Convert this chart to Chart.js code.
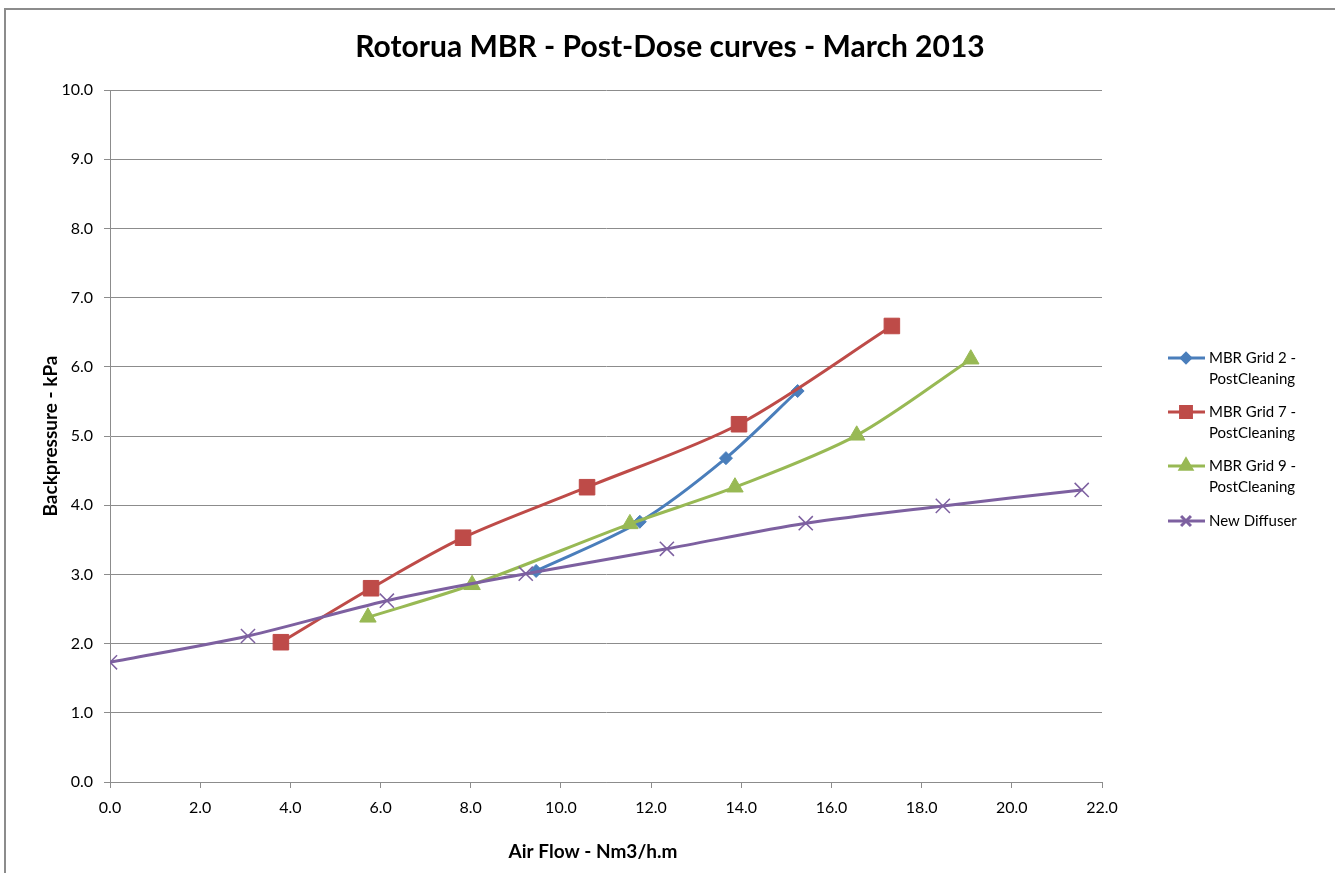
<!DOCTYPE html>
<html>
<head>
<meta charset="utf-8">
<title>Rotorua MBR - Post-Dose curves - March 2013</title>
<script src="https://cdn.jsdelivr.net/npm/chart.js@4/dist/chart.umd.min.js"></script>
<style>
  html, body { margin: 0; padding: 0; background: #ffffff; }
  canvas { display: block; }
</style>
</head>
<body>
<canvas id="chart" width="1335" height="873"></canvas>
<script>
// Air flow (Nm3/h.m) and backpressure (kPa) per series
const grid2X = [9.45, 11.75, 13.66, 15.25];
const grid2Y = [3.05, 3.76, 4.68, 5.65];

const grid7X = [3.79, 5.79, 7.83, 10.58, 13.95, 17.34];
const grid7Y = [2.02, 2.80, 3.53, 4.26, 5.17, 6.59];

const grid9X = [5.72, 8.03, 11.53, 13.86, 16.56, 19.09];
const grid9Y = [2.38, 2.85, 3.73, 4.26, 5.01, 6.11];

const diffuserX = [0.0, 3.06, 6.14, 9.22, 12.35, 15.43, 18.47, 21.55];
const diffuserY = [1.73, 2.11, 2.62, 3.01, 3.37, 3.74, 3.99, 4.22];

const seriesNames = [
  ['MBR Grid 2 -', 'PostCleaning'],
  ['MBR Grid 7 -', 'PostCleaning'],
  ['MBR Grid 9 -', 'PostCleaning'],
  ['New Diffuser']
];

const titleText = 'Rotorua MBR - Post-Dose curves - March 2013';
const xTitle = 'Air Flow - Nm3/h.m';
const yTitle = 'Backpressure - kPa';

const FONT = 'Lato, "Open Sans", "DejaVu Sans", sans-serif';
const GRID = '#8c8c8c';

function toPoints(xs, ys) {
  return xs.map((x, i) => ({ x: x, y: ys[i] }));
}

const styles = [
  { color: '#4a7ebb', pointStyle: 'rectRot', radius: 6.5, borderWidth: 1 },
  { color: '#be4b48', pointStyle: 'rect', radius: 11, borderWidth: 1 },
  { color: '#98b954', pointStyle: 'triangle', radius: 9.5, borderWidth: 1 },
  { color: '#7d60a0', pointStyle: 'crossRot', radius: 10, borderWidth: 1.5 }
];

const seriesData = [
  toPoints(grid2X, grid2Y),
  toPoints(grid7X, grid7Y),
  toPoints(grid9X, grid9Y),
  toPoints(diffuserX, diffuserY)
];

const datasets = seriesData.map((data, i) => ({
  label: seriesNames[i].join(' '),
  data: data,
  showLine: true,
  tension: 0.3,
  borderColor: styles[i].color,
  backgroundColor: styles[i].color,
  borderWidth: 3,
  pointStyle: styles[i].pointStyle,
  pointRadius: styles[i].radius,
  pointHoverRadius: styles[i].radius,
  pointBorderColor: styles[i].color,
  pointBackgroundColor: styles[i].color,
  pointBorderWidth: styles[i].borderWidth,
  order: 4 - i
}));

// Frame, title, axis titles and the two-line legend
const decorations = {
  id: 'decorations',
  afterDraw(chart) {
    const ctx = chart.ctx;
    const area = chart.chartArea;
    ctx.save();

    ctx.strokeStyle = '#8c8c8c';
    ctx.lineWidth = 2;
    ctx.strokeRect(5, 9, 1400, 900);

    ctx.fillStyle = '#000000';
    ctx.textAlign = 'center';
    ctx.textBaseline = 'middle';
    ctx.font = 'bold 30px ' + FONT;
    ctx.fillText(titleText, 670, 47);

    ctx.font = 'bold 19px ' + FONT;
    ctx.fillText(xTitle, 593, 852);
    ctx.save();
    ctx.translate(51, 436);
    ctx.rotate(-Math.PI / 2);
    ctx.fillText(yTitle, 0, 0);
    ctx.restore();

    ctx.font = '15px ' + FONT;
    ctx.textAlign = 'left';
    const rowY = [358, 412, 466, 521];
    seriesNames.forEach((lines, i) => {
      const y = rowY[i];
      const st = styles[i];
      ctx.strokeStyle = st.color;
      ctx.lineWidth = 3;
      ctx.beginPath();
      ctx.moveTo(1168, y);
      ctx.lineTo(1205, y);
      ctx.stroke();
      ctx.fillStyle = st.color;
      ctx.strokeStyle = st.color;
      Chart.helpers.drawPoint(ctx, {
        pointStyle: st.pointStyle,
        radius: st.radius * 0.7,
        rotation: 0,
        borderWidth: st.borderWidth
      }, 1186, y);
      ctx.fillStyle = '#000000';
      lines.forEach((t, k) => ctx.fillText(t, 1209, y + k * 21));
    });
    ctx.restore();
  }
};

new Chart(document.getElementById('chart'), {
  type: 'scatter',
  data: { datasets: datasets },
  options: {
    responsive: false,
    animation: false,
    events: [],
    layout: { padding: { top: 90, right: 233, bottom: 0, left: 0 } },
    plugins: {
      legend: { display: false },
      title: { display: false },
      tooltip: { enabled: false }
    },
    scales: {
      x: {
        type: 'linear',
        min: 0,
        max: 22,
        afterFit(scale) { scale.height = 91; },
        ticks: {
          stepSize: 2,
          padding: 10,
          color: '#000000',
          font: { family: FONT, size: 16 },
          maxRotation: 0,
          callback: v => v.toFixed(1)
        },
        grid: {
          drawOnChartArea: false,
          drawTicks: true,
          tickLength: 6,
          color: GRID
        },
        border: { color: GRID, width: 1 }
      },
      y: {
        type: 'linear',
        min: 0,
        max: 10,
        afterFit(scale) { scale.width = 110; },
        ticks: {
          stepSize: 1,
          padding: 11,
          color: '#000000',
          font: { family: FONT, size: 16 },
          callback: v => v.toFixed(1)
        },
        grid: {
          color: GRID,
          drawTicks: true,
          tickLength: 6
        },
        border: { color: GRID, width: 1 }
      }
    }
  },
  plugins: [decorations]
});
</script>
</body>
</html>
